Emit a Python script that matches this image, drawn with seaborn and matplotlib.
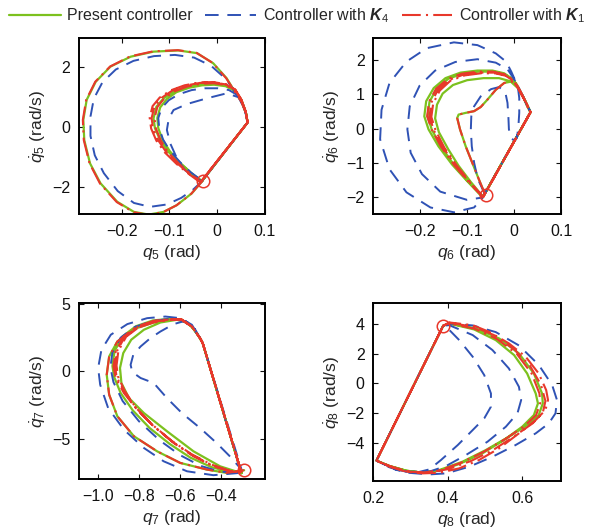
import matplotlib
matplotlib.use("Agg")
import matplotlib.pyplot as plt
from matplotlib.lines import Line2D
import seaborn as sns

# ---------------------------------------------------------------- data
# Joint phase trajectories (q, dq/dt) for three controllers, steps concatenated
# including the impact (reset) segments.

# q5
q5_present_q = [-0.030, -0.053, -0.084, -0.112, -0.143, -0.174, -0.209, -0.244, -0.266, -0.278, -0.280, -0.273,
                -0.254, -0.223, -0.181, -0.133, -0.081, -0.042, -0.008, 0.020, 0.036, 0.051, 0.061, 0.064,
                -0.033, -0.055, -0.078, -0.099, -0.114, -0.123, -0.125, -0.119, -0.105, -0.085, -0.058, -0.031,
                -0.006, 0.018, 0.038, 0.051, 0.060, 0.064,
                -0.031, -0.054, -0.078, -0.102, -0.119, -0.130, -0.133, -0.127, -0.112, -0.091, -0.063, -0.035,
                -0.008, 0.017, 0.038, 0.051, 0.060, 0.064, -0.032]
q5_present_dq = [-1.80, -2.23, -2.62, -2.85, -2.94, -2.85, -2.51, -1.89, -1.22, -0.44, 0.24, 0.91,
                 1.52, 2.03, 2.36, 2.53, 2.57, 2.48, 2.14, 1.64, 1.22, 0.85, 0.45, 0.15,
                 -1.83, -1.53, -1.19, -0.81, -0.43, -0.04, 0.30, 0.66, 0.94, 1.17, 1.32, 1.40,
                 1.42, 1.37, 1.21, 0.90, 0.50, 0.15,
                 -1.81, -1.56, -1.22, -0.83, -0.44, -0.04, 0.29, 0.68, 0.96, 1.19, 1.36, 1.45,
                 1.47, 1.41, 1.24, 0.91, 0.52, 0.15, -1.82]

q5_k4_q = [-0.030, -0.050, -0.075, -0.105, -0.140, -0.174, -0.208, -0.237, -0.256, -0.265, -0.265, -0.258,
           -0.240, -0.212, -0.175, -0.132, -0.088, -0.048, -0.012, 0.018, 0.036, 0.051, 0.061, 0.064,
           -0.032, -0.050, -0.067, -0.084, -0.098, -0.105, -0.101, -0.091, -0.063, -0.022, 0.020, 0.045,
           0.058, 0.064,
           -0.031, -0.055, -0.078, -0.099, -0.113, -0.121, -0.123, -0.116, -0.101, -0.080, -0.053, -0.025,
           0.002, 0.025, 0.042, 0.053, 0.060, 0.064]
q5_k4_dq = [-1.80, -2.10, -2.38, -2.60, -2.68, -2.55, -2.15, -1.55, -0.95, -0.30, 0.35, 0.95,
            1.50, 1.93, 2.22, 2.38, 2.42, 2.33, 2.05, 1.62, 1.22, 0.85, 0.45, 0.15,
            -1.82, -1.65, -1.45, -1.05, -0.55, -0.10, 0.29, 0.57, 0.77, 0.96, 1.13, 1.00,
            0.60, 0.15,
            -1.81, -1.52, -1.17, -0.79, -0.42, -0.04, 0.30, 0.64, 0.90, 1.10, 1.24, 1.30,
            1.30, 1.24, 1.08, 0.82, 0.48, 0.15]

q5_k1_q = [-0.030, -0.054, -0.085, -0.113, -0.144, -0.175, -0.210, -0.245, -0.267, -0.279, -0.281, -0.274,
           -0.255, -0.224, -0.182, -0.134, -0.082, -0.043, -0.009, 0.019, 0.036, 0.051, 0.061, 0.064,
           -0.034, -0.056, -0.080, -0.103, -0.118, -0.128, -0.131, -0.125, -0.111, -0.090, -0.062, -0.034,
           -0.007, 0.018, 0.038, 0.051, 0.060, 0.064,
           -0.034, -0.057, -0.082, -0.106, -0.123, -0.134, -0.137, -0.131, -0.116, -0.094, -0.066, -0.036,
           -0.008, 0.018, 0.038, 0.051, 0.060, 0.064,
           -0.035, -0.058, -0.084, -0.109, -0.127, -0.138, -0.141, -0.135, -0.120, -0.097, -0.068, -0.038,
           -0.009, 0.018, 0.038, 0.051, 0.060, 0.064, -0.035]
q5_k1_dq = [-1.80, -2.24, -2.63, -2.86, -2.95, -2.86, -2.52, -1.90, -1.22, -0.44, 0.24, 0.91,
            1.52, 2.03, 2.37, 2.54, 2.58, 2.49, 2.15, 1.64, 1.22, 0.85, 0.45, 0.15,
            -1.84, -1.57, -1.23, -0.84, -0.45, -0.05, 0.29, 0.67, 0.95, 1.19, 1.36, 1.45,
            1.47, 1.41, 1.24, 0.91, 0.52, 0.15,
            -1.85, -1.58, -1.24, -0.85, -0.45, -0.05, 0.30, 0.69, 0.98, 1.22, 1.39, 1.48,
            1.50, 1.43, 1.25, 0.92, 0.52, 0.15,
            -1.86, -1.59, -1.25, -0.86, -0.46, -0.05, 0.31, 0.70, 0.99, 1.23, 1.40, 1.49,
            1.51, 1.44, 1.26, 0.92, 0.52, 0.15, -1.86]

# q6
q6_present_q = [-0.062, -0.075, -0.089, -0.103, -0.115, -0.121, -0.118, -0.103, -0.085, -0.071, -0.057, -0.039,
                -0.021, -0.006, 0.004, 0.019, 0.028, 0.035,
                -0.067, -0.100, -0.132, -0.161, -0.182, -0.191, -0.187, -0.171, -0.146, -0.114, -0.078, -0.046,
                -0.021, -0.003, 0.011, 0.024, 0.035,
                -0.066, -0.092, -0.118, -0.140, -0.160, -0.168, -0.164, -0.152, -0.130, -0.100, -0.065, -0.032,
                -0.008, 0.008, 0.022, 0.035,
                -0.066, -0.098, -0.128, -0.155, -0.175, -0.184, -0.180, -0.165, -0.140, -0.110, -0.075, -0.044,
                -0.020, -0.002, 0.011, 0.024, 0.035, -0.066]
q6_present_dq = [-1.90, -1.47, -0.99, -0.51, -0.02, 0.31, 0.41, 0.46, 0.51, 0.63, 0.84, 1.13,
                 1.33, 1.37, 1.33, 0.94, 0.65, 0.48,
                 -2.00, -1.52, -1.04, -0.51, -0.02, 0.36, 0.80, 1.18, 1.47, 1.63, 1.69, 1.69,
                 1.61, 1.44, 1.13, 0.80, 0.48,
                 -1.98, -1.55, -1.08, -0.60, -0.10, 0.30, 0.70, 1.02, 1.27, 1.41, 1.47, 1.47,
                 1.38, 1.18, 0.85, 0.48,
                 -1.98, -1.53, -1.05, -0.53, -0.03, 0.36, 0.78, 1.16, 1.45, 1.60, 1.66, 1.66,
                 1.58, 1.42, 1.13, 0.80, 0.48, -1.98]

q6_k4_q = [-0.062, -0.077, -0.085, -0.090, -0.092, -0.091, -0.085, -0.071, -0.049, -0.032, -0.019, -0.014,
           -0.012, -0.011, -0.006, 0.001, 0.006, 0.009, 0.011, 0.011, 0.008, 0.019, 0.028, 0.035,
           -0.067, -0.100, -0.157, -0.196, -0.220, -0.227, -0.222, -0.201, -0.168, -0.125, -0.078, -0.039,
           -0.014, 0.001, 0.015, 0.026, 0.035,
           -0.067, -0.085, -0.128, -0.178, -0.229, -0.265, -0.285, -0.282, -0.265, -0.229, -0.186, -0.128,
           -0.078, -0.039, -0.017, -0.006, 0.004, 0.019, 0.035]
q6_k4_dq = [-1.90, -1.47, -0.99, -0.51, -0.02, 0.36, 0.65, 0.94, 1.15, 1.21, 1.08, 0.75,
            0.31, -0.02, -0.27, -0.36, -0.27, 0.03, 0.46, 0.89, 1.23, 0.94, 0.65, 0.48,
            -2.00, -2.07, -1.83, -1.32, -0.70, -0.02, 0.65, 1.25, 1.69, 1.94, 2.02, 1.92,
            1.73, 1.42, 1.04, 0.75, 0.48,
            -2.00, -2.29, -2.43, -2.29, -1.85, -1.18, -0.31, 0.55, 1.33, 1.95, 2.34, 2.51,
            2.43, 2.19, 1.95, 1.66, 1.35, 0.94, 0.48]

q6_k1_q = [-0.062, -0.075, -0.089, -0.103, -0.115, -0.121, -0.118, -0.103, -0.085, -0.071, -0.057, -0.039,
           -0.021, -0.006, 0.004, 0.019, 0.028, 0.035,
           -0.066, -0.098, -0.128, -0.155, -0.175, -0.185, -0.181, -0.166, -0.141, -0.111, -0.076, -0.045,
           -0.020, -0.002, 0.011, 0.024, 0.035,
           -0.066, -0.096, -0.125, -0.151, -0.171, -0.180, -0.176, -0.162, -0.138, -0.108, -0.073, -0.042,
           -0.019, -0.002, 0.011, 0.024, 0.035,
           -0.066, -0.094, -0.122, -0.148, -0.167, -0.176, -0.172, -0.158, -0.135, -0.105, -0.071, -0.040,
           -0.018, -0.001, 0.011, 0.024, 0.035, -0.066]
q6_k1_dq = [-1.90, -1.47, -0.99, -0.51, -0.02, 0.31, 0.41, 0.46, 0.51, 0.63, 0.84, 1.13,
            1.33, 1.37, 1.33, 0.94, 0.65, 0.48,
            -1.99, -1.53, -1.05, -0.53, -0.03, 0.36, 0.78, 1.16, 1.45, 1.60, 1.66, 1.66,
            1.58, 1.42, 1.13, 0.80, 0.48,
            -1.99, -1.54, -1.06, -0.55, -0.04, 0.35, 0.76, 1.13, 1.42, 1.57, 1.63, 1.63,
            1.56, 1.40, 1.12, 0.80, 0.48,
            -1.99, -1.54, -1.07, -0.56, -0.05, 0.34, 0.74, 1.11, 1.40, 1.55, 1.61, 1.61,
            1.54, 1.39, 1.11, 0.80, 0.48, -1.99]

# q7
q7_present_q = [-0.285, -0.371, -0.468, -0.598, -0.711, -0.825, -0.906, -0.946, -0.958, -0.946, -0.906, -0.825,
                -0.728, -0.646, -0.590, -0.541, -0.501, -0.488,
                -0.298, -0.403, -0.533, -0.663, -0.776, -0.849, -0.886, -0.893, -0.877, -0.838, -0.776, -0.695,
                -0.614, -0.560, -0.520, -0.488,
                -0.298, -0.360, -0.445, -0.548, -0.648, -0.748, -0.830, -0.890, -0.922, -0.930, -0.920, -0.880,
                -0.815, -0.732, -0.648, -0.590, -0.541, -0.501, -0.488, -0.298]
q7_present_dq = [-7.33, -7.53, -7.28, -6.79, -5.93, -4.81, -3.33, -1.73, -0.25, 1.11, 2.22, 3.14,
                 3.63, 3.83, 3.83, 3.33, 2.47, 2.10,
                 -7.55, -7.04, -5.93, -4.44, -3.09, -1.98, -0.86, 0.25, 1.36, 2.35, 3.09, 3.63,
                 3.83, 3.60, 2.90, 2.10,
                 -7.55, -7.45, -7.10, -6.40, -5.40, -4.20, -2.90, -1.60, -0.40, 0.40, 1.50, 2.60,
                 3.35, 3.78, 3.90, 3.83, 3.33, 2.47, 2.10, -7.55]

q7_k4_q = [-0.306, -0.436, -0.565, -0.679, -0.776, -0.874, -0.951, -0.990, -1.000, -0.984, -0.938, -0.857,
           -0.760, -0.671, -0.598, -0.541, -0.501, -0.488,
           -0.298, -0.355, -0.420, -0.501, -0.590, -0.663, -0.728, -0.792, -0.833, -0.841, -0.828, -0.792,
           -0.744, -0.695, -0.630, -0.574, -0.533, -0.501, -0.488,
           -0.300, -0.400, -0.500, -0.600, -0.700, -0.800, -0.880, -0.925, -0.940, -0.930, -0.890, -0.820,
           -0.730, -0.650, -0.590, -0.540, -0.501, -0.488]
q7_k4_dq = [-7.53, -7.70, -7.41, -6.67, -5.68, -4.32, -2.72, -0.99, 0.25, 1.60, 2.72, 3.51,
            3.95, 4.07, 3.95, 3.46, 2.47, 2.10,
            -7.28, -6.30, -5.31, -4.20, -3.09, -1.98, -0.86, -0.49, -0.05, 0.49, 1.23, 1.85,
            2.47, 2.96, 3.51, 3.75, 3.33, 2.47, 2.10,
            -7.50, -7.45, -7.00, -6.20, -5.10, -3.70, -2.20, -0.80, 0.30, 1.40, 2.50, 3.30,
            3.75, 3.90, 3.80, 3.30, 2.47, 2.10]

q7_k1_q = [-0.285, -0.371, -0.468, -0.598, -0.711, -0.825, -0.906, -0.946, -0.958, -0.946, -0.906, -0.825,
           -0.728, -0.646, -0.590, -0.541, -0.501, -0.488,
           -0.298, -0.355, -0.436, -0.533, -0.630, -0.728, -0.809, -0.874, -0.914, -0.925, -0.914, -0.874,
           -0.809, -0.728, -0.646, -0.590, -0.541, -0.501, -0.488,
           -0.298, -0.357, -0.440, -0.538, -0.636, -0.734, -0.813, -0.872, -0.909, -0.918, -0.908, -0.869,
           -0.805, -0.725, -0.645, -0.590, -0.541, -0.501, -0.488,
           -0.298, -0.360, -0.444, -0.543, -0.642, -0.740, -0.817, -0.870, -0.903, -0.910, -0.901, -0.863,
           -0.800, -0.722, -0.643, -0.590, -0.541, -0.501, -0.488, -0.298]
q7_k1_dq = [-7.33, -7.53, -7.28, -6.79, -5.93, -4.81, -3.33, -1.73, -0.25, 1.11, 2.22, 3.14,
            3.63, 3.83, 3.83, 3.33, 2.47, 2.10,
            -7.53, -7.41, -7.04, -6.30, -5.31, -4.07, -2.84, -1.60, -0.49, 0.37, 1.48, 2.59,
            3.33, 3.75, 3.88, 3.83, 3.33, 2.47, 2.10,
            -7.53, -7.38, -6.98, -6.22, -5.22, -3.98, -2.75, -1.52, -0.43, 0.40, 1.50, 2.58,
            3.31, 3.73, 3.86, 3.83, 3.33, 2.47, 2.10,
            -7.53, -7.35, -6.92, -6.14, -5.13, -3.89, -2.66, -1.44, -0.37, 0.43, 1.52, 2.57,
            3.29, 3.71, 3.85, 3.83, 3.33, 2.47, 2.10, -7.53]

# q8
q8_present_q = [0.388, 0.404, 0.476, 0.538, 0.591, 0.631, 0.653, 0.655, 0.644, 0.613, 0.564, 0.502,
                0.440, 0.378, 0.333, 0.289, 0.244, 0.209,
                0.388, 0.404, 0.471, 0.529, 0.578, 0.613, 0.636, 0.642, 0.631, 0.600, 0.551, 0.493,
                0.431, 0.378, 0.333, 0.289, 0.244, 0.209, 0.388]
q8_present_dq = [3.88, 4.03, 3.70, 3.02, 2.01, 0.66, -0.69, -1.36, -2.15, -2.82, -3.61, -4.51,
                 -5.29, -5.85, -6.03, -5.90, -5.58, -5.22,
                 3.88, 4.03, 3.63, 2.91, 1.90, 0.66, -0.69, -1.36, -2.15, -2.93, -3.83, -4.73,
                 -5.45, -5.90, -6.03, -5.90, -5.58, -5.22, 3.88]

q8_k4_q = [0.388, 0.404, 0.467, 0.529, 0.591, 0.644, 0.680, 0.693, 0.689, 0.671, 0.636, 0.582,
           0.520, 0.458, 0.396, 0.351, 0.289, 0.244, 0.209,
           0.388, 0.404, 0.467, 0.520, 0.564, 0.591, 0.597, 0.587, 0.556, 0.507, 0.449, 0.396,
           0.351, 0.289, 0.244, 0.209,
           0.388, 0.396, 0.431, 0.467, 0.498, 0.516, 0.516, 0.498, 0.467, 0.427, 0.382, 0.351,
           0.316, 0.262, 0.209]
q8_k4_dq = [3.88, 4.03, 3.90, 3.45, 2.55, 1.24, -0.12, -1.13, -2.03, -2.71, -3.38, -4.17,
            -4.96, -5.63, -6.08, -6.15, -6.03, -5.67, -5.22,
            3.88, 3.92, 3.25, 2.24, 1.00, -0.24, -1.13, -2.03, -2.93, -3.94, -4.84, -5.58,
            -5.96, -5.97, -5.63, -5.22,
            3.88, 3.81, 2.91, 1.79, 0.55, -0.69, -1.58, -2.37, -3.16, -4.17, -5.18, -5.81,
            -6.03, -5.85, -5.22]

q8_k1_q = [0.388, 0.404, 0.467, 0.511, 0.564, 0.609, 0.644, 0.664, 0.669, 0.662, 0.636, 0.591,
           0.538, 0.484, 0.431, 0.378, 0.333, 0.289, 0.244, 0.209,
           0.388, 0.404, 0.472, 0.524, 0.578, 0.620, 0.650, 0.662, 0.655, 0.628, 0.580, 0.522,
           0.462, 0.400, 0.340, 0.289, 0.244, 0.209,
           0.388, 0.404, 0.473, 0.533, 0.586, 0.625, 0.646, 0.648, 0.637, 0.606, 0.557, 0.497,
           0.435, 0.378, 0.333, 0.289, 0.244, 0.209, 0.388]
q8_k1_dq = [3.88, 4.10, 3.92, 3.47, 2.69, 1.79, 0.66, -0.46, -1.13, -1.81, -2.48, -3.38,
            -4.39, -5.18, -5.74, -6.04, -6.08, -5.97, -5.63, -5.22,
            3.88, 4.08, 3.80, 3.25, 2.30, 1.20, -0.10, -1.20, -1.98, -2.70, -3.55, -4.50,
            -5.25, -5.80, -6.05, -5.95, -5.60, -5.22,
            3.88, 4.05, 3.67, 2.97, 1.96, 0.66, -0.69, -1.36, -2.15, -2.88, -3.72, -4.62,
            -5.37, -5.88, -6.03, -5.92, -5.58, -5.22, 3.88]

# initial states (open circles)
start_q = [-0.030, -0.060, -0.285, 0.388]
start_dq = [-1.80, -1.93, -7.33, 3.88]

joint_ids = ["5", "6", "7", "8"]
x_limits = [(-0.29, 0.1), (-0.3, 0.1), (-1.096, -0.184), (0.2, 0.704)]
y_limits = [(-2.92, 2.98), (-2.48, 2.63), (-7.98, 5.06), (-6.6, 5.4)]
x_ticks = [[-0.2, -0.1, 0, 0.1], [-0.2, -0.1, 0, 0.1], [-1.0, -0.8, -0.6, -0.4], [0.2, 0.4, 0.6]]
x_ticklabels = [["\u22120.2", "\u22120.1", "0", "0.1"], ["\u22120.2", "\u22120.1", "0", "0.1"],
                ["\u22121.0", "\u22120.8", "\u22120.6", "\u22120.4"], ["0.2", "0.4", "0.6"]]
y_ticks = [[-2, 0, 2], [-2, -1, 0, 1, 2], [-5, 0, 5], [-4, -2, 0, 2, 4]]
y_ticklabels = [["\u22122", "0", "2"], ["\u22122", "\u22121", "0", "1", "2"], ["\u22125", "0", "5"],
                ["\u22124", "\u22122", "0", "2", "4"]]

series_labels = ["Present controller", r"Controller with $\mathbfit{K}_4$", r"Controller with $\mathbfit{K}_1$"]

# ---------------------------------------------------------------- style
sns.set_style("ticks")
plt.rcParams.update({
    "font.family": ["Liberation Sans", "DejaVu Sans"],
    "mathtext.fontset": "custom",
    "mathtext.rm": "Liberation Sans",
    "mathtext.it": "Liberation Sans:italic",
    "mathtext.bf": "Liberation Sans:bold",
    "mathtext.bfit": "Liberation Sans:italic:bold",
    "axes.unicode_minus": True,
})

GREEN = "#7cc11e"
BLUE = "#2f52b5"
RED = "#e8382b"
BLUE_DASH = (0, (7, 4.5))
RED_DASHDOT = (0, (9, 2.5, 1, 2.5))

trajectories = [
    (q5_present_q, q5_present_dq, q5_k4_q, q5_k4_dq, q5_k1_q, q5_k1_dq),
    (q6_present_q, q6_present_dq, q6_k4_q, q6_k4_dq, q6_k1_q, q6_k1_dq),
    (q7_present_q, q7_present_dq, q7_k4_q, q7_k4_dq, q7_k1_q, q7_k1_dq),
    (q8_present_q, q8_present_dq, q8_k4_q, q8_k4_dq, q8_k1_q, q8_k1_dq),
]

fig = plt.figure(figsize=(5.95, 5.31), dpi=100)
axes_rects = [
    [0.132, 0.597, 0.313, 0.331],
    [0.627, 0.597, 0.316, 0.331],
    [0.132, 0.098, 0.313, 0.331],
    [0.627, 0.094, 0.316, 0.335],
]

for i, rect in enumerate(axes_rects):
    ax = fig.add_axes(rect)
    pq, pdq, bq, bdq, rq, rdq = trajectories[i]
    sns.lineplot(x=pq, y=pdq, sort=False, estimator=None, ax=ax, color=GREEN, lw=1.6)
    sns.lineplot(x=bq, y=bdq, sort=False, estimator=None, ax=ax, color=BLUE, lw=1.4, linestyle=BLUE_DASH)
    sns.lineplot(x=rq, y=rdq, sort=False, estimator=None, ax=ax, color=RED, lw=1.5, linestyle=RED_DASHDOT)
    ax.plot([start_q[i]], [start_dq[i]], marker="o", ms=9, mfc="none", mec=RED, mew=1.1, ls="none")

    ax.set_xlim(*x_limits[i])
    ax.set_ylim(*y_limits[i])
    ax.set_xticks(x_ticks[i])
    ax.set_xticklabels(x_ticklabels[i])
    ax.set_yticks(y_ticks[i])
    ax.set_yticklabels(y_ticklabels[i])
    ax.tick_params(direction="in", top=True, right=True, length=3.5, width=0.8,
                   labelsize=11.5, colors="#111111")
    ax.tick_params(axis="x", pad=7)
    ax.tick_params(axis="y", pad=6)
    for sp in ax.spines.values():
        sp.set_visible(True)
        sp.set_linewidth(1.4)
        sp.set_color("black")
    j = joint_ids[i]
    ax.set_xlabel(rf"$q_{j}$ (rad)", fontsize=12.5, labelpad=3)
    ax.set_ylabel(rf"$\dot{{q}}_{j}$ (rad/s)", fontsize=12.5, labelpad=3)

handles = [
    Line2D([], [], color=GREEN, lw=1.6),
    Line2D([], [], color=BLUE, lw=1.4, linestyle=BLUE_DASH),
    Line2D([], [], color=RED, lw=1.5, linestyle=RED_DASHDOT),
]
fig.legend(handles, series_labels, loc="upper center", bbox_to_anchor=(0.5, 1.015), ncol=3,
           frameon=False, fontsize=11.5, handlelength=3.2, handletextpad=0.4, columnspacing=0.8)

fig.savefig("out.png", dpi=100)
